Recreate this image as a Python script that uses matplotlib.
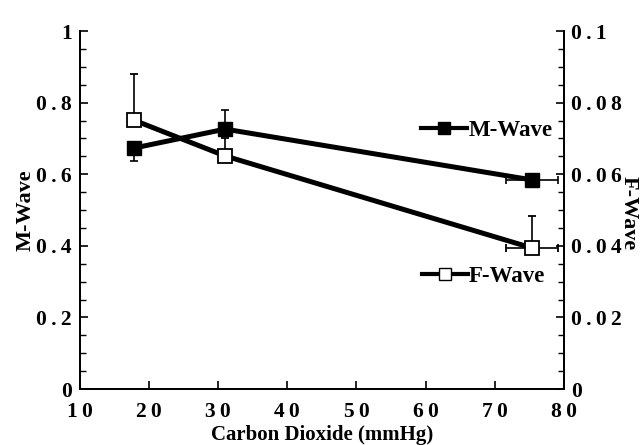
import matplotlib
matplotlib.use("Agg")
import matplotlib.pyplot as plt
from matplotlib.lines import Line2D
from matplotlib.ticker import MultipleLocator

# Data
co2 = [17.8, 31.0, 75.4]
m_wave = [0.673, 0.726, 0.584]
m_err_low = [0.036, 0.0, 0.0]
m_err_high = [0.0, 0.053, 0.0]
f_wave = [0.0751, 0.0651, 0.0394]
f_err_low = [0.0, 0.0, 0.0]
f_err_high = [0.013, 0.005, 0.009]
co2_err = [0.0, 0.0, 3.7]

x_ticks = [10, 20, 30, 40, 50, 60, 70, 80]
left_ticks = [0, 0.2, 0.4, 0.6, 0.8, 1.0]
left_labels = ["0", "0.2", "0.4", "0.6", "0.8", "1"]
right_ticks = [0, 0.02, 0.04, 0.06, 0.08, 0.1]
right_labels = ["0", "0.02", "0.04", "0.06", "0.08", "0.1"]

plt.rcParams['font.family'] = ['Liberation Serif', 'DejaVu Serif']
plt.rcParams['font.weight'] = 'bold'

SP = "\u2009"
def spaced(s):
    return SP.join(s)

fig = plt.figure(figsize=(6.4, 4.45), dpi=100)
ax = fig.add_axes([0.125, 0.1258, 0.756, 0.8045])
ax2 = ax.twinx()

lw = 3.6
ax.errorbar(co2, m_wave, yerr=[m_err_low, m_err_high], xerr=[co2_err, co2_err],
            color='black', lw=lw, marker='s', ms=10, mfc='black', mec='black',
            ecolor='black', elinewidth=1.2, capsize=3, capthick=1.2, zorder=3)
ax2.errorbar(co2, f_wave, yerr=[f_err_low, f_err_high], xerr=[co2_err, co2_err],
             color='black', lw=lw, marker='s', ms=10, mfc='white', mec='black', mew=1.3,
             ecolor='black', elinewidth=1.2, capsize=3, capthick=1.2, zorder=3)

ax.set_xlim(10, 80)
ax.set_ylim(0, 1)
ax2.set_ylim(0, 0.1)

for a in (ax, ax2):
    a.spines['top'].set_visible(False)
    for s in a.spines.values():
        s.set_linewidth(1.3)

ax.set_xticks(x_ticks)
ax.set_xticklabels([SP.join(str(t)) for t in x_ticks])
ax.set_yticks(left_ticks)
ax.set_yticklabels([spaced(s) for s in left_labels])
ax.yaxis.set_minor_locator(MultipleLocator(0.05))
ax2.set_yticks(right_ticks)
ax2.set_yticklabels([spaced(s) for s in right_labels])
ax2.yaxis.set_minor_locator(MultipleLocator(0.005))

ax.tick_params(axis='both', which='major', direction='in', length=6, width=1.2,
               labelsize=15.5, pad=6)
ax.tick_params(axis='y', which='minor', direction='in', length=4, width=1.0)
ax.tick_params(axis='x', which='major', pad=9)
ax2.tick_params(axis='y', which='major', direction='in', length=6, width=1.2,
                labelsize=15.5, pad=5)
ax2.tick_params(axis='y', which='minor', direction='in', length=4, width=1.0)
for lab in ax.get_xticklabels() + ax.get_yticklabels() + ax2.get_yticklabels():
    lab.set_fontweight('bold')

ax.set_xlabel("Carbon Dioxide (mmHg)", fontsize=15, fontweight='bold')
ax.xaxis.set_label_coords(0.5, -0.101)
ax.set_ylabel("M-Wave", fontsize=16, fontweight='bold', labelpad=0)
ax2.set_ylabel("F-Wave", fontsize=16, fontweight='bold', rotation=270)
ax2.yaxis.set_label_coords(1.155, 0.49)

h_m = Line2D([], [], color='black', lw=3, marker='s', ms=8, mfc='black', mec='black')
h_f = Line2D([], [], color='black', lw=3, marker='s', ms=8, mfc='white', mec='black')
leg1 = ax.legend([h_m], ["M-Wave"], loc='center right', bbox_to_anchor=(1.0, 0.722),
                 frameon=False, fontsize=16.5, handlelength=2.0, handletextpad=0.05,
                 borderaxespad=0.1)
ax.add_artist(leg1)
leg2 = ax.legend([h_f], ["F-Wave"], loc='center right', bbox_to_anchor=(0.985, 0.315),
                 frameon=False, fontsize=16.5, handlelength=2.0, handletextpad=0.05,
                 borderaxespad=0.1)
for lg in (leg1, leg2):
    for t in lg.get_texts():
        t.set_fontweight('bold')

fig.savefig("out.png", dpi=100)
